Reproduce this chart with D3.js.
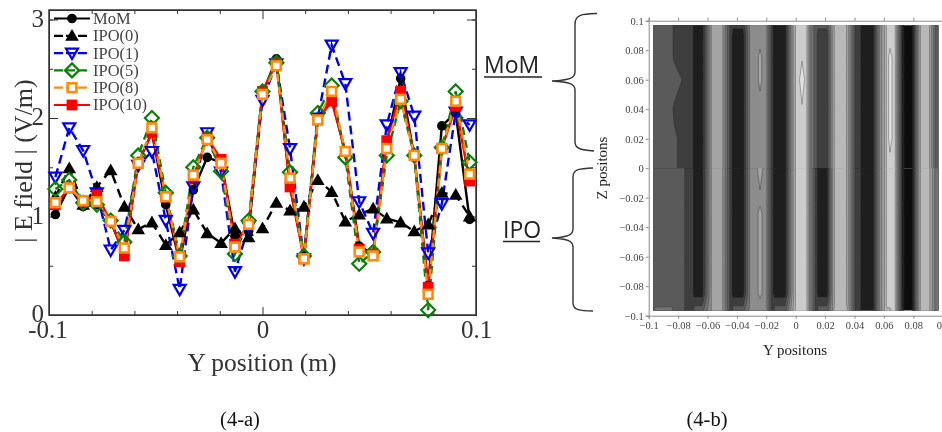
<!DOCTYPE html>
<html>
<head>
<meta charset="utf-8">
<style>
  html, body { margin: 0; padding: 0; background: #fff; }
  svg { display: block; filter: blur(0.45px); }
  text { font-family: "Liberation Serif", serif; }
  .field { filter: blur(0.5px); }
</style>
<script src="https://cdn.jsdelivr.net/npm/d3@7"></script>
</head>
<body>
<svg id="chart"></svg>
<script>
// left plot: |E| along Y
const yPositions = [-0.097, -0.0905, -0.084, -0.0776, -0.0711, -0.0647, -0.0582, -0.0518, -0.0453, -0.0388, -0.0324,
  -0.0259, -0.0194, -0.0129, -0.0065, 0, 0.0065, 0.0129, 0.0194, 0.0259, 0.0324, 0.0388, 0.0453, 0.0518, 0.0582,
  0.0647, 0.0711, 0.0776, 0.084, 0.0905, 0.097];
const mom = [1.02, 1.3, 1.1, 1.12, 0.95, 0.62, 1.55, 1.85, 1.12, 0.54, 1.27, 1.6, 1.55, 0.8, 0.85, 2.25, 2.6, 1.3, 0.6,
  2.0, 2.2, 1.65, 0.7, 0.62, 1.75, 2.4, 1.6, 0.3, 1.92, 2.05, 0.97];
const ipo0 = [1.2, 1.49, 1.12, 1.3, 1.47, 1.1, 0.87, 0.94, 0.71, 0.84, 1.07, 0.83, 0.73, 0.88, 0.79, 0.88, 1.14, 1.06,
  1.1, 1.37, 1.25, 0.95, 1.02, 1.08, 0.98, 0.94, 0.85, 0.92, 1.24, 1.22, 1.0];
const ipo1 = [1.4, 1.9, 1.67, 1.24, 0.66, 0.86, 1.52, 1.66, 0.96, 0.26, 1.3, 1.85, 1.45, 0.44, 0.9, 2.18, 2.55, 1.69,
  0.57, 2.0, 2.74, 2.35, 1.15, 0.83, 1.93, 2.46, 2.02, 0.63, 1.13, 2.06, 1.93];
const ipo5 = [1.28, 1.37, 1.14, 1.12, 0.96, 0.74, 1.62, 2.0, 1.24, 0.6, 1.5, 1.8, 1.46, 0.62, 0.96, 2.27, 2.56, 1.45,
  0.6, 2.05, 2.33, 1.6, 0.52, 0.64, 1.62, 2.17, 1.62, 0.05, 1.7, 2.27, 1.55];
const ipo8 = [1.14, 1.29, 1.16, 1.15, 0.95, 0.68, 1.54, 1.9, 1.2, 0.59, 1.42, 1.78, 1.54, 0.69, 0.92, 2.24, 2.53, 1.39,
  0.57, 1.98, 2.27, 1.66, 0.64, 0.6, 1.69, 2.19, 1.62, 0.21, 1.69, 2.17, 1.43];
const ipo10 = [1.12, 1.29, 1.15, 1.22, 0.95, 0.6, 1.54, 1.85, 1.2, 0.54, 1.4, 1.8, 1.58, 0.72, 0.92, 2.27, 2.56, 1.3,
  0.57, 1.98, 2.17, 1.66, 0.67, 0.62, 1.77, 2.27, 1.62, 0.28, 1.69, 2.12, 1.36];

const seriesNames = ["MoM", "IPO(0)", "IPO(1)", "IPO(5)", "IPO(8)", "IPO(10)"];
const seriesValues = [mom, ipo0, ipo1, ipo5, ipo8, ipo10];
const seriesColors = ["#000000", "#000000", "#0000ee", "#0a7f0a", "#ff8c10", "#ff0000"];
const seriesDash = [null, "9,6", "9,5", "8,5", "8,5", null];
const seriesMarkers = ["circle", "up", "down", "diamond", "square", "solidSquare"];
const drawOrder = [0, 1, 2, 5, 3, 4];

// right plot: grey levels across Y (columns sit at the band edges), one profile per half,
// with small local edits per row
const fieldCols = [-0.1, -0.0957, -0.0842, -0.0828, -0.076, -0.0746, -0.0702, -0.0692, -0.0637, -0.0576, -0.0569,
  -0.0501, -0.0433, -0.0427, -0.0359, -0.0311, -0.0277, -0.0243, -0.0202, -0.0154, -0.0144, -0.0073, 0.0002, 0.0016,
  0.0043, 0.007, 0.0104, 0.0145, 0.0151, 0.0213, 0.0253, 0.0267, 0.0342, 0.0403, 0.0441, 0.0447, 0.0525, 0.056,
  0.0607, 0.062, 0.0641, 0.0675, 0.073, 0.0744, 0.0791, 0.0832, 0.0852, 0.0906, 0.0954, 0.1002];
const momRowZ = [-0.002, 0.02, 0.04, 0.06, 0.075, 0.09, 0.1];
const momProfile = [3.5, 3.5, 3.1, 2.9, 2.6, 2.6, 2.4, 1.5, 1.5, 5.9, 6.4, 6.4, 2.0, 1.5, 1.5, 5.2, 5.5, 5.6, 5.4, 2.0,
  1.5, 1.5, 8.3, 8.7, 8.9, 8.7, 4.9, 3.0, 2.5, 2.5, 6.4, 7.3, 7.3, 3.0, 2.1, 1.6, 1.6, 4.5, 7.2, 8.3, 8.3, 8.3, 1.2,
  0.8, 0.8, 5.5, 7.4, 7.4, 3.5, 2.5];
const momEdits = [ // [row, column, value]
  [0, 3, 3.2], [1, 3, 3.1], [1, 4, 2.8], [3, 3, 3.4], [3, 4, 2.9], [3, 17, 6.25], [4, 17, 6.25], [3, 24, 9.5],
  [1, 40, 9.5], [2, 40, 9.5], [3, 40, 9.5], [4, 40, 9.5], [6, 13, 2.6], [6, 14, 2.6], [6, 28, 3.6], [6, 29, 3.6],
  [6, 24, 8.6]
];
const ipoRowZ = [0.002, -0.022, -0.03, -0.06, -0.085, -0.092, -0.1];
const ipoProfile = [3.7, 3.7, 3.7, 3.7, 3.1, 2.8, 2.4, 1.6, 1.6, 5.9, 6.3, 6.3, 2.0, 1.5, 1.5, 5.2, 5.5, 5.7, 5.4, 2.0,
  1.5, 1.5, 8.3, 8.7, 8.9, 8.7, 4.9, 2.2, 1.6, 1.6, 6.2, 7.3, 7.3, 3.0, 2.1, 1.6, 1.6, 4.5, 7.2, 8.3, 8.3, 8.3, 1.2,
  0.8, 0.8, 5.5, 7.4, 7.4, 4.5, 3.5];
const ipoEdits = [
  [0, 17, 6.7], [2, 17, 6.3], [3, 17, 6.3], [4, 17, 6.3],
  [5, 7, 2.8], [5, 8, 2.8], [5, 13, 2.8], [5, 14, 2.8], [5, 20, 2.8], [5, 21, 2.8], [5, 28, 2.8], [5, 29, 2.8],
  [6, 7, 4], [6, 8, 4], [6, 13, 4], [6, 14, 4], [6, 20, 4], [6, 21, 4], [6, 28, 4], [6, 29, 4],
  [6, 1, 4.8], [6, 2, 5], [6, 31, 8.2], [6, 32, 8.2], [6, 39, 7.4], [6, 40, 7.4]
];
const greyThresholds = [1, 2, 3, 4, 5, 6, 7, 8, 9];
const greyLevels = ["#0c0c0c", "#1e1e1e", "#3e3e3e", "#5a5a5a", "#727272", "#8c8c8c", "#a4a4a4", "#b8b8b8", "#cccccc", "#e2e2e2"];
const yzTicks = [-0.1, -0.08, -0.06, -0.04, -0.02, 0, 0.02, 0.04, 0.06, 0.08, 0.1];
const fieldTicks = [0, 0.5, 1, 1.5, 2, 2.5, 3];

const svg = d3.select("#chart").attr("width", 942).attr("height", 432);

// ---------- left plot ----------
const xA = d3.scaleLinear().domain([-0.1, 0.1]).range([49, 476]);
const yA = d3.scaleLinear().domain([0, 3]).range([315, 19.5]);
const frameTop = 10;

function isMajorY(d) { return d === -0.1 || d === 0 || d === 0.1; }

function styleAxis(g, color) {
  g.selectAll("path, line").attr("stroke", color);
  g.selectAll("text").attr("fill", "#333");
}

const bottomA = svg.append("g").attr("transform", "translate(0,315)")
  .call(d3.axisBottom(xA).tickValues(yzTicks).tickSizeOuter(0).tickSize(-4).tickPadding(10)
    .tickFormat(d => d === -0.1 ? "-0.1" : d === 0 ? "0" : d === 0.1 ? "0.1" : ""));
bottomA.selectAll(".tick line").attr("y2", d => isMajorY(d) ? -8 : -4);
bottomA.selectAll("text").attr("font-size", 25).attr("y", 5).attr("dx", d => d === -0.1 ? -1.5 : 0);

const topA = svg.append("g").attr("transform", `translate(0,${frameTop})`)
  .call(d3.axisTop(xA).tickValues(yzTicks).tickSizeOuter(0).tickSize(-4).tickFormat(""));
topA.selectAll(".tick line").attr("y2", d => isMajorY(d) ? 9 : 4);

const leftA = svg.append("g").attr("transform", "translate(49,0)")
  .call(d3.axisLeft(yA).tickValues(fieldTicks).tickSizeOuter(0).tickSize(-4).tickPadding(5)
    .tickFormat(d => Number.isInteger(d) ? d : ""));
leftA.selectAll(".tick line").attr("x2", d => Number.isInteger(d) ? 9 : 4);
leftA.selectAll("text").attr("font-size", 25).attr("dy", "0.26em");

const rightA = svg.append("g").attr("transform", "translate(476,0)")
  .call(d3.axisRight(yA).tickValues(fieldTicks).tickSizeOuter(0).tickSize(-4).tickFormat(""));
rightA.selectAll(".tick line").attr("x2", d => Number.isInteger(d) ? -9 : -4);

[bottomA, topA, leftA, rightA].forEach(g => styleAxis(g, "#333"));
// frame, axis domains stop at the ticks so close it by hand
svg.append("rect").attr("x", xA.range()[0]).attr("y", frameTop)
  .attr("width", xA.range()[1] - xA.range()[0]).attr("height", yA.range()[0] - frameTop)
  .attr("fill", "none").attr("stroke", "#333").attr("stroke-width", 1.5);

const line = d3.line().x((d, i) => xA(yPositions[i])).y(d => yA(d));

function drawMarker(sel, kind, color) {
  if (kind === "circle") {
    sel.append("circle").attr("r", 4.8).attr("fill", color);
  } else if (kind === "up") {
    sel.append("path").attr("d", "M0,-6.8L6.8,5L-6.8,5Z").attr("fill", color);
  } else if (kind === "down") {
    sel.append("path").attr("d", "M-6,-4.5L6,-4.5L0,6Z").attr("fill", "none").attr("stroke", color).attr("stroke-width", 2.2);
  } else if (kind === "diamond") {
    sel.append("path").attr("d", "M0,-7L7,0L0,7L-7,0Z").attr("fill", "none").attr("stroke", color).attr("stroke-width", 2.2);
  } else if (kind === "square") {
    sel.append("rect").attr("x", -4.4).attr("y", -4.4).attr("width", 8.8).attr("height", 8.8)
      .attr("fill", "#fff").attr("stroke", color).attr("stroke-width", 2.6);
  } else {
    sel.append("rect").attr("x", -5.4).attr("y", -5.4).attr("width", 10.8).attr("height", 10.8).attr("fill", color);
  }
}

const plotA = svg.append("g");
drawOrder.forEach(k => {
  plotA.append("path").datum(seriesValues[k])
    .attr("d", line).attr("fill", "none")
    .attr("stroke", seriesColors[k]).attr("stroke-width", 2.4)
    .attr("stroke-dasharray", seriesDash[k]);
});
drawOrder.forEach(k => {
  const pts = plotA.append("g").selectAll("g").data(seriesValues[k]).join("g")
    .attr("transform", (d, i) => `translate(${xA(yPositions[i])},${yA(d)})`);
  drawMarker(pts, seriesMarkers[k], seriesColors[k]);
});

// legend
const legendY = d3.scalePoint().domain(seriesNames).range([18.5, 105]);
const legend = svg.append("g").selectAll("g").data(seriesNames).join("g")
  .attr("transform", d => `translate(0,${legendY(d)})`);
legend.append("line").attr("x1", 54).attr("x2", 90)
  .attr("stroke", (d, i) => seriesColors[i]).attr("stroke-width", 2.2)
  .attr("stroke-dasharray", (d, i) => seriesDash[i] ? "9,3" : null);
legend.each(function (d, i) {
  drawMarker(d3.select(this).append("g").attr("transform", "translate(72,0)"), seriesMarkers[i], seriesColors[i]);
});
legend.append("text").attr("x", 93).attr("dy", "0.33em").attr("font-size", 16.5).attr("fill", "#444").text(d => d);

svg.append("text").attr("transform", "translate(32,161) rotate(-90)").attr("text-anchor", "middle")
  .attr("font-size", 26).attr("fill", "#333").text("| E field | (V/m)");
svg.append("text").attr("x", 262).attr("y", 371).attr("text-anchor", "middle")
  .attr("font-size", 25.5).attr("fill", "#333").text("Y position (m)");

// ---------- annotations between the plots ----------
svg.append("text").attr("x", 484).attr("y", 73).attr("font-size", 23)
  .style("font-family", "'Open Sans', sans-serif").attr("fill", "#222").text("MoM");
svg.append("line").attr("x1", 484).attr("x2", 542).attr("y1", 77).attr("y2", 77).attr("stroke", "#222").attr("stroke-width", 1.3);
svg.append("text").attr("x", 503).attr("y", 238).attr("font-size", 23)
  .style("font-family", "'Open Sans', sans-serif").attr("fill", "#222").text("IPO");
svg.append("line").attr("x1", 503).attr("x2", 540).attr("y1", 241.5).attr("y2", 241.5).attr("stroke", "#222").attr("stroke-width", 1.3);

const braces = [
  "M597,13.5C583,14 575,14 575,24L575,72C575,78 570,80 552,81C570,82 575,84 575,90L575,142C575,149 582,150 594,151",
  "M593,168C580,168.5 573,169 573,177L573,229C573,235 568,237 552,238C568,239 573,241 573,247L573,303C573,310 580,311 593,311"
];
svg.selectAll(".brace").data(braces).join("path").attr("class", "brace")
  .attr("d", d => d).attr("fill", "none").attr("stroke", "#333").attr("stroke-width", 1.4);

// ---------- right plot ----------
const xB = d3.scaleLinear().domain([-0.1, 0.1]).range([648.7, 942.7]);
const yB = d3.scaleLinear().domain([-0.1, 0.1]).range([315.7, 20.7]);
const nCols = fieldCols.length;
const colToY = d3.scaleLinear().domain(d3.range(nCols)).range(fieldCols);

const defs = svg.append("defs");
defs.append("clipPath").attr("id", "clip-mom").append("rect")
  .attr("x", xB(-0.097)).attr("width", xB(0.097) - xB(-0.097)).attr("y", yB(0.097)).attr("height", yB(0) - yB(0.097));
defs.append("clipPath").attr("id", "clip-ipo").append("rect")
  .attr("x", xB(-0.097)).attr("width", xB(0.097) - xB(-0.097)).attr("y", yB(0)).attr("height", yB(-0.0965) - yB(0));

// blur sits on the parent, otherwise the two clipped halves leave a seam at z = 0
const fieldLayer = svg.append("g").attr("class", "field");

function drawField(rowZ, profile, edits, clipId) {
  const rows = rowZ.map(() => profile.slice());
  edits.forEach(([r, c, v]) => { rows[r][c] = v; });
  const rowToZ = d3.scaleLinear().domain(d3.range(rowZ.length)).range(rowZ);
  const project = d3.geoTransform({
    point(px, py) { this.stream.point(xB(colToY(px - 0.5)), yB(rowToZ(py - 0.5))); }
  });
  const path = d3.geoPath(project);
  const contours = d3.contours().size([nCols, rowZ.length]).thresholds(greyThresholds)(rows.flat());
  const g = fieldLayer.append("g").attr("clip-path", `url(#${clipId})`);
  g.append("rect").attr("x", xB(-0.1)).attr("y", yB(0.1)).attr("width", 300).attr("height", 300).attr("fill", greyLevels[0]);
  g.selectAll("path").data(contours).join("path")
    .attr("d", path)
    .attr("fill", (d, i) => greyLevels[i + 1])
    .attr("stroke", "#2a2a2a").attr("stroke-opacity", 0.6).attr("stroke-width", 0.6);
}
drawField(momRowZ, momProfile, momEdits, "clip-mom");
drawField(ipoRowZ, ipoProfile, ipoEdits, "clip-ipo");

function signed(d) { return d === 0 ? "0" : (d < 0 ? "\u2212" : "") + Math.abs(d); }

const axisGrey = "#8a8a8a";
const bottomB = svg.append("g").attr("transform", "translate(0,315.7)")
  .call(d3.axisBottom(xB).tickValues(yzTicks).tickSizeOuter(0).tickSize(3).tickPadding(3).tickFormat(signed));
const topB = svg.append("g").attr("transform", "translate(0,20.7)")
  .call(d3.axisTop(xB).tickValues(yzTicks).tickSizeOuter(0).tickSize(3).tickFormat(""));
const leftB = svg.append("g").attr("transform", "translate(648.7,0)")
  .call(d3.axisLeft(yB).tickValues(yzTicks).tickSizeOuter(0).tickSize(3).tickPadding(2).tickFormat(signed));
[bottomB, topB, leftB].forEach(g => {
  g.selectAll("path, line").attr("stroke", axisGrey);
  g.selectAll("text").attr("font-size", 10.5).attr("fill", "#444");
});

svg.append("text").attr("x", 795).attr("y", 355).attr("text-anchor", "middle")
  .attr("font-size", 15).attr("fill", "#222").text("Y positons");
svg.append("text").attr("transform", "translate(607,168) rotate(-90)").attr("text-anchor", "middle")
  .attr("font-size", 15).attr("fill", "#222").text("Z positons");

// captions
svg.append("text").attr("x", 240).attr("y", 426).attr("text-anchor", "middle").attr("font-size", 20.5).attr("fill", "#111").text("(4-a)");
svg.append("text").attr("x", 707).attr("y", 426).attr("text-anchor", "middle").attr("font-size", 20.5).attr("fill", "#111").text("(4-b)");
</script>
</body>
</html>
